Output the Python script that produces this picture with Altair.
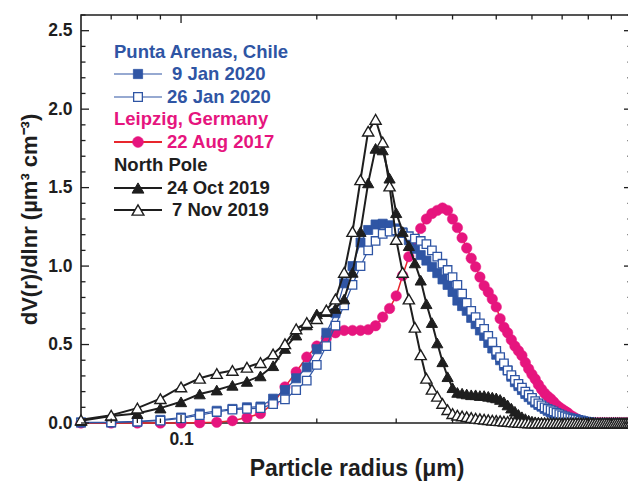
import altair as alt
import pandas as pd

# ---------------- data ----------------
radius = [0.06, 0.07, 0.08, 0.09, 0.10, 0.11, 0.12, 0.13, 0.14, 0.15,
          0.16, 0.17, 0.18, 0.19, 0.20, 0.21, 0.22, 0.23, 0.24, 0.25,
          0.26, 0.27, 0.28, 0.29, 0.30, 0.31, 0.32, 0.33, 0.34, 0.35,
          0.36, 0.37, 0.38, 0.39, 0.40, 0.41, 0.42, 0.43, 0.44, 0.45,
          0.46, 0.47, 0.48, 0.49, 0.50, 0.51, 0.52, 0.53, 0.54, 0.55,
          0.56, 0.57, 0.58, 0.59, 0.60, 0.61, 0.62, 0.63, 0.64, 0.65,
          0.66, 0.67, 0.68, 0.69, 0.70, 0.71, 0.72, 0.73, 0.74, 0.75,
          0.76, 0.77, 0.78, 0.79, 0.80, 0.81, 0.82, 0.83, 0.84, 0.85,
          0.86, 0.87, 0.88, 0.89, 0.90, 0.91, 0.92, 0.93, 0.94, 0.95,
          0.96, 0.97, 0.98, 0.99, 1.00]

# Leipzig, 22 Aug 2017
leipzig_aug22 = [0.0, 0.0, 0.0, 0.0, 0.0, 0.002, 0.005, 0.015, 0.035, 0.06,
                 0.125, 0.23, 0.325, 0.42, 0.49, 0.54, 0.575, 0.59, 0.59, 0.59,
                 0.595, 0.62, 0.675, 0.73, 0.81, 0.94, 1.06, 1.16, 1.24, 1.30,
                 1.335, 1.355, 1.37, 1.355, 1.30, 1.245, 1.18, 1.115, 1.05, 0.995,
                 0.93, 0.875, 0.835, 0.79, 0.74, 0.665, 0.61, 0.575, 0.53, 0.49,
                 0.46, 0.43, 0.385, 0.345, 0.31, 0.28, 0.245, 0.215, 0.19, 0.17,
                 0.155, 0.135, 0.115, 0.10, 0.088, 0.076, 0.065, 0.05, 0.04, 0.03,
                 0.02, 0.012, 0.005, 0.002, 0.0, 0.0, 0.0, 0.0, 0.0, 0.0,
                 0.0, 0.0, 0.0, 0.0, 0.0, 0.0, 0.0, 0.0, 0.0, 0.0,
                 0.0, 0.0, 0.0, 0.0, 0.0]

# Punta Arenas, 9 Jan 2020
punta_jan9 = [0.004, 0.005, 0.01, 0.02, 0.035, 0.06, 0.078, 0.09, 0.10, 0.105,
              0.155, 0.21, 0.285, 0.355, 0.47, 0.575, 0.70, 0.89, 1.00, 1.15,
              1.23, 1.265, 1.27, 1.26, 1.24, 1.215, 1.165, 1.11, 1.07, 1.035,
              0.995, 0.955, 0.915, 0.88, 0.835, 0.78, 0.745, 0.715, 0.67, 0.63,
              0.59, 0.555, 0.51, 0.475, 0.435, 0.40, 0.365, 0.335, 0.295, 0.26,
              0.235, 0.21, 0.185, 0.165, 0.148, 0.13, 0.115, 0.104, 0.09, 0.078,
              0.068, 0.06, 0.052, 0.045, 0.04, 0.034, 0.03, 0.025, 0.021, 0.018,
              0.015, 0.012, 0.009, 0.006, 0.004, 0.002, 0.0, 0.0, 0.0, 0.0,
              0.0, 0.0, 0.0, 0.0, 0.0, 0.0, 0.0, 0.0, 0.0, 0.0,
              0.0, 0.0, 0.0, 0.0, 0.0]

# Punta Arenas, 26 Jan 2020
punta_jan26 = [0.003, 0.003, 0.008, 0.015, 0.03, 0.05, 0.07, 0.085, 0.09, 0.095,
               0.12, 0.15, 0.21, 0.27, 0.37, 0.49, 0.62, 0.75, 0.88, 1.00,
               1.10, 1.16, 1.205, 1.22, 1.228, 1.21, 1.19, 1.175, 1.16, 1.14,
               1.10, 1.06, 1.015, 0.975, 0.93, 0.88, 0.825, 0.765, 0.715, 0.675,
               0.635, 0.60, 0.555, 0.515, 0.46, 0.42, 0.38, 0.335, 0.305, 0.275,
               0.25, 0.225, 0.20, 0.18, 0.16, 0.14, 0.125, 0.112, 0.10, 0.09,
               0.082, 0.074, 0.065, 0.056, 0.048, 0.042, 0.036, 0.031, 0.027, 0.024,
               0.02, 0.016, 0.012, 0.008, 0.005, 0.003, 0.0, 0.0, 0.0, 0.0,
               0.0, 0.0, 0.0, 0.0, 0.0, 0.0, 0.0, 0.0, 0.0, 0.0,
               0.0, 0.0, 0.0, 0.0, 0.0]

# North Pole, 24 Oct 2019
pole_oct24 = [0.015, 0.045, 0.06, 0.095, 0.135, 0.185, 0.21, 0.24, 0.265, 0.30,
              0.365, 0.475, 0.56, 0.625, 0.695, 0.71, 0.73, 0.79, 0.96, 1.22,
              1.53, 1.75, 1.74, 1.56, 1.34, 1.22, 1.13, 1.02, 0.91, 0.76,
              0.64, 0.51, 0.39, 0.295, 0.225, 0.195, 0.19, 0.185, 0.18, 0.18,
              0.175, 0.175, 0.17, 0.165, 0.16, 0.15, 0.135, 0.115, 0.095, 0.075,
              0.055, 0.04, 0.028, 0.018, 0.012, 0.008, 0.005, 0.003, 0.002, 0.001,
              0.0, 0.0, 0.0, 0.0, 0.0, 0.0, 0.0, 0.0, 0.0, 0.0,
              0.0, 0.0, 0.0, 0.0, 0.0, 0.0, 0.0, 0.0, 0.0, 0.0,
              0.0, 0.0, 0.0, 0.0, 0.0, 0.0, 0.0, 0.0, 0.0, 0.0,
              0.0, 0.0, 0.0, 0.0, 0.0]

# North Pole, 7 Nov 2019
pole_nov7 = [0.02, 0.05, 0.095, 0.155, 0.23, 0.285, 0.315, 0.335, 0.355, 0.385,
             0.44, 0.505, 0.60, 0.64, 0.665, 0.72, 0.79, 0.96, 1.22, 1.55,
             1.86, 1.935, 1.79, 1.51, 1.17, 0.96, 0.79, 0.61, 0.435, 0.285,
             0.215, 0.17, 0.125, 0.085, 0.06, 0.05, 0.045, 0.04, 0.035, 0.03,
             0.027, 0.024, 0.021, 0.018, 0.016, 0.014, 0.012, 0.01, 0.008, 0.006,
             0.004, 0.003, 0.002, 0.001, 0.0, 0.0, 0.0, 0.0, 0.0, 0.0,
             0.0, 0.0, 0.0, 0.0, 0.0, 0.0, 0.0, 0.0, 0.0, 0.0,
             0.0, 0.0, 0.0, 0.0, 0.0, 0.0, 0.0, 0.0, 0.0, 0.0,
             0.0, 0.0, 0.0, 0.0, 0.0, 0.0, 0.0, 0.0, 0.0, 0.0,
             0.0, 0.0, 0.0, 0.0, 0.0]

# axis ticks
x_label_values = [0.1]
x_major_ticks = [0.1, 1.0]
x_minor_ticks = [0.07, 0.08, 0.09, 0.2, 0.3, 0.4, 0.5, 0.6, 0.7, 0.8, 0.9]
y_major_ticks = [0.0, 0.5, 1.0, 1.5, 2.0, 2.5]
y_minor_ticks = [0.1, 0.2, 0.3, 0.4, 0.6, 0.7, 0.8, 0.9, 1.1, 1.2, 1.3, 1.4,
                 1.6, 1.7, 1.8, 1.9, 2.1, 2.2, 2.3, 2.4, 2.6]

# ---------------- style ----------------
FONT = "Liberation Sans"
BLUE = "#2F55A4"
PINK = "#E6157E"
RED = "#E8262D"
BLACK = "#1E1E1E"
W, H = 551, 408

xscale = alt.Scale(type="log", domain=[0.06, 1.0])
yscale = alt.Scale(domain=[0, 2.6], zero=True, nice=False)

xaxis = alt.Axis(values=x_label_values, format="~g", labelFlush=False,
                 labelFont=FONT, labelFontSize=17.5, labelFontWeight="bold",
                 labelColor=BLACK, labelPadding=7, ticks=False, domain=False,
                 grid=False, labelOverlap=False, labelBound=False,
                 title="Particle radius (μm)", titleFont=FONT,
                 titleFontSize=23, titleFontWeight="bold", titleColor=BLACK,
                 titlePadding=10)
yaxis = alt.Axis(values=y_major_ticks, format=".1f", labelFont=FONT,
                 labelFontSize=17.5, labelFontWeight="bold", labelColor=BLACK,
                 labelPadding=9, ticks=False, domain=False, grid=False,
                 labelOverlap=False, labelBound=False,
                 title="dV(r)/dlnr (µm³ cm⁻³)", titleFont=FONT,
                 titleFontSize=22, titleFontWeight="bold", titleColor=BLACK,
                 titlePadding=6)


def ex():
    return alt.X("r:Q", scale=xscale, axis=xaxis)


def ey():
    return alt.Y("v:Q", scale=yscale, axis=yaxis)


layers = []


def add_series(vals, color, line_color, line_w, shape, filled, size, sw):
    d = pd.DataFrame({"r": radius, "v": vals})
    base = alt.Chart(d)
    layers.append(base.mark_line(color=line_color, strokeWidth=line_w)
                  .encode(x=ex(), y=ey()))
    layers.append(base.mark_point(shape=shape, filled=True,
                                  fill=color if filled else "white",
                                  stroke=color, strokeWidth=sw, size=size,
                                  opacity=1, fillOpacity=1)
                  .encode(x=ex(), y=ey()))


add_series(leipzig_aug22, PINK, RED, 1.5, "circle", True, 110, 0.5)
add_series(punta_jan9, BLUE, BLUE, 1.2, "square", True, 82, 0.8)
add_series(punta_jan26, BLUE, BLUE, 1.2, "square", False, 72, 1.3)
add_series(pole_oct24, BLACK, BLACK, 2.0, "triangle-up", True, 125, 1.0)
add_series(pole_nov7, BLACK, BLACK, 2.0, "triangle-up", False, 125, 1.4)

# inward ticks
for vals, ln in [(y_major_ticks, 8), (y_minor_ticks, 4.5)]:
    d = pd.DataFrame({"v": vals})
    layers.append(alt.Chart(d).mark_rule(color=BLACK, strokeWidth=1.3)
                  .encode(y=ey(), x=alt.value(0), x2=alt.value(ln)))
    layers.append(alt.Chart(d).mark_rule(color=BLACK, strokeWidth=1.3)
                  .encode(y=ey(), x=alt.value(W), x2=alt.value(W - ln)))
for vals, ln in [(x_major_ticks, 8), (x_minor_ticks, 4.5)]:
    d = pd.DataFrame({"r": vals})
    layers.append(alt.Chart(d).mark_rule(color=BLACK, strokeWidth=1.3)
                  .encode(x=ex(), y=alt.value(H), y2=alt.value(H - ln)))
    layers.append(alt.Chart(d).mark_rule(color=BLACK, strokeWidth=1.3)
                  .encode(x=ex(), y=alt.value(0), y2=alt.value(ln)))

# ---------------- legend ----------------
one = pd.DataFrame({"k": [0]})


def legend_text(txt, color, x, y):
    layers.append(alt.Chart(one).mark_text(text=txt, align="left",
                                           baseline="middle", font=FONT,
                                           fontSize=18.5, fontWeight="bold",
                                           color=color)
                  .encode(x=alt.value(x), y=alt.value(y)))


def legend_symbol(color, line_color, line_w, shape, filled, size, sw, y):
    layers.append(alt.Chart(one).mark_rule(color=line_color, strokeWidth=line_w)
                  .encode(x=alt.value(33), x2=alt.value(81), y=alt.value(y)))
    layers.append(alt.Chart(one).mark_point(shape=shape, filled=True,
                                            fill=color if filled else "white",
                                            stroke=color, strokeWidth=sw,
                                            size=size, opacity=1)
                  .encode(x=alt.value(57), y=alt.value(y)))


legend_text("Punta Arenas, Chile", BLUE, 33, 37)
legend_symbol(BLUE, BLUE, 1.2, "square", True, 85, 0.8, 59)
legend_text("9 Jan 2020", BLUE, 91, 59)
legend_symbol(BLUE, BLUE, 1.2, "square", False, 76, 1.3, 82)
legend_text("26 Jan 2020", BLUE, 86, 82)
legend_text("Leipzig, Germany", PINK, 33, 104)
legend_symbol(PINK, RED, 1.8, "circle", True, 120, 0.5, 127)
legend_text("22 Aug 2017", PINK, 86, 127)
legend_text("North Pole", BLACK, 33, 150)
legend_symbol(BLACK, BLACK, 2.0, "triangle-up", True, 140, 1.0, 173)
legend_text("24 Oct 2019", BLACK, 86, 173)
legend_symbol(BLACK, BLACK, 2.0, "triangle-up", False, 140, 1.4, 195)
legend_text("7 Nov 2019", BLACK, 91, 195)

chart = (alt.layer(*layers)
         .properties(width=W, height=H,
                     padding={"left": 81, "top": 15, "right": -4, "bottom": 60},
                     autosize=alt.AutoSizeParams(type="none"),
                     background="white")
         .configure_view(stroke=BLACK, strokeWidth=1.6))

chart.save("out.html", embed_options={"renderer": "svg", "actions": False})
